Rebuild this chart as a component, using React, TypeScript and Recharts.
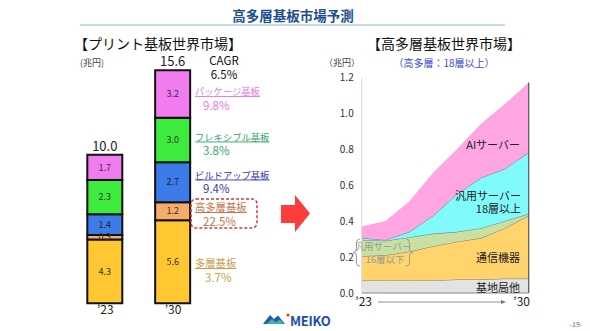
import React from 'react';
import {
  BarChart, Bar, XAxis, YAxis, LabelList,
  AreaChart, Area, ReferenceLine,
} from 'recharts';

// ---- Left: printed circuit board world market (兆円) ----
const barCategories = ['’23', '’30'];
const multilayer = [4.3, 5.6];       // 多層基板
const highMultilayer = [0.3, 1.2];   // 高多層基板
const buildup = [1.4, 2.7];          // ビルドアップ基板
const flexible = [2.3, 3.0];         // フレキシブル基板
const packageSub = [1.7, 3.2];       // パッケージ基板
const barTotals = [10.0, 15.6];

// ---- Right: high multilayer board world market (兆円) ----
const years = ['2023', '2024', '2025', '2026', '2027', '2028', '2029', '2030'];
const baseStation = [0.07, 0.07, 0.07, 0.07, 0.075, 0.075, 0.08, 0.08];     // 基地局他
const commEquip = [0.135, 0.14, 0.16, 0.19, 0.21, 0.23, 0.28, 0.35];        // 通信機器
const server16 = [0.09, 0.08, 0.08, 0.07, 0.055, 0.055, 0.04, 0.01];        // 汎用サーバー16層以下
const server18 = [0.01, 0.005, 0.03, 0.1, 0.21, 0.28, 0.29, 0.34];          // 汎用サーバー18層以上
const aiServer = [0.065, 0.105, 0.17, 0.24, 0.25, 0.3, 0.36, 0.39];         // AIサーバー
const areaTicks = [0, 0.2, 0.4, 0.6, 0.8, 1.0, 1.2];

const barData = barCategories.map((c, i) => ({
  cat: c,
  multilayer: multilayer[i],
  highMultilayer: highMultilayer[i],
  buildup: buildup[i],
  flexible: flexible[i],
  packageSub: packageSub[i],
  total: barTotals[i].toFixed(1),
}));

const areaData = years.map((y, i) => ({
  year: y,
  baseStation: baseStation[i],
  commEquip: commEquip[i],
  server16: server16[i],
  server18: server18[i],
  aiServer: aiServer[i],
}));

const lastIdx = years.length - 1;
const lastTotal =
  baseStation[lastIdx] + commEquip[lastIdx] + server16[lastIdx] + server18[lastIdx] + aiServer[lastIdx];

const FONT = '"Noto Sans CJK JP", "Noto Sans", sans-serif';
const fmt1 = (v: any) => Number(v).toFixed(1);

const AreaXTick = (props: any) => {
  const { x, y, index } = props;
  let label = '';
  let dx = 0;
  if (index === 0) { label = '’23'; dx = 2; }
  else if (index === lastIdx) { label = '’30'; dx = -7; }
  return (
    <text x={x + dx} y={y} dy="0.71em" textAnchor="middle" fontSize={12} fill="#222" fontFamily={FONT}>
      {label}
    </text>
  );
};

export default function App() {
  const barStroke = '#111';
  const areaStroke = '#5a5a6a';
  return (
    <div style={{ position: 'absolute', left: 0, top: 0, width: 590, height: 331, background: '#fff', fontFamily: FONT, overflow: 'hidden' }}>
      {/* Left bar chart */}
      <div style={{ position: 'absolute', left: 0, top: 0 }}>
        <BarChart
          width={230}
          height={331}
          data={barData}
          margin={{ top: 65.7, right: 23, bottom: 7.7, left: 71.3 }}
        >
          <XAxis
            dataKey="cat"
            tickLine={false}
            axisLine={false}
            height={20}
            tickSize={2}
            tickMargin={0}
            tick={{ fontSize: 12, fill: '#222', fontFamily: FONT }}
          />
          <YAxis hide domain={[0, 16]} />
          <Bar dataKey="multilayer" stackId="s" fill="#FFC832" stroke={barStroke} strokeWidth={2} barSize={35} isAnimationActive={false}>
            <LabelList dataKey="multilayer" position="center" formatter={fmt1} fontSize={9} fill="#333" fontFamily={FONT} />
          </Bar>
          <Bar dataKey="highMultilayer" stackId="s" fill="#F7AC6B" stroke={barStroke} strokeWidth={2} barSize={35} isAnimationActive={false}>
            <LabelList dataKey="highMultilayer" position="center" formatter={fmt1} fontSize={9} fill="#333" fontFamily={FONT} />
          </Bar>
          <Bar dataKey="buildup" stackId="s" fill="#3C7CE8" stroke={barStroke} strokeWidth={2} barSize={35} isAnimationActive={false}>
            <LabelList dataKey="buildup" position="center" formatter={fmt1} fontSize={9} fill="#222" fontFamily={FONT} />
          </Bar>
          <Bar dataKey="flexible" stackId="s" fill="#3DEB3D" stroke={barStroke} strokeWidth={2} barSize={35} isAnimationActive={false}>
            <LabelList dataKey="flexible" position="center" formatter={fmt1} fontSize={9} fill="#333" fontFamily={FONT} />
          </Bar>
          <Bar dataKey="packageSub" stackId="s" fill="#F07CF0" stroke={barStroke} strokeWidth={2} barSize={35} isAnimationActive={false}>
            <LabelList dataKey="packageSub" position="center" formatter={fmt1} fontSize={9} fill="#333" fontFamily={FONT} />
            <LabelList dataKey="total" position="top" offset={4} fontSize={13} fill="#222" fontFamily={FONT} />
          </Bar>
        </BarChart>
      </div>

      {/* Right area chart */}
      <div style={{ position: 'absolute', left: 300, top: 0 }}>
        <AreaChart
          width={290}
          height={331}
          data={areaData}
          margin={{ top: 77, right: 61.3, bottom: 18, left: 21.7 }}
        >
          <XAxis
            dataKey="year"
            interval={0}
            tickLine={false}
            axisLine={{ stroke: '#888' }}
            height={20}
            tickSize={2}
            tickMargin={2}
            tick={<AreaXTick />}
          />
          <YAxis
            domain={[0, 1.2]}
            ticks={areaTicks}
            width={40}
            tickLine={false}
            axisLine={{ stroke: '#D9D9D9' }}
            tickFormatter={(v: number) => v.toFixed(1)}
            tick={{ fontSize: 10, fill: '#333', fontFamily: FONT }}
          />
          <Area type="linear" dataKey="baseStation" stackId="a" fill="#E3E3E3" fillOpacity={1} stroke="#777" strokeWidth={1} isAnimationActive={false} />
          <Area type="linear" dataKey="commEquip" stackId="a" fill="#FFD46C" fillOpacity={1} stroke={areaStroke} strokeWidth={0.8} isAnimationActive={false} />
          <Area type="linear" dataKey="server16" stackId="a" fill="#C8E0A2" fillOpacity={1} stroke={areaStroke} strokeWidth={0.8} isAnimationActive={false} />
          <Area type="linear" dataKey="server18" stackId="a" fill="#80FAFA" fillOpacity={1} stroke={areaStroke} strokeWidth={0.8} isAnimationActive={false} />
          <Area type="linear" dataKey="aiServer" stackId="a" fill="#FFA5E2" fillOpacity={1} stroke="none" isAnimationActive={false} />
          <ReferenceLine
            segment={[{ x: years[lastIdx], y: 0 }, { x: years[lastIdx], y: lastTotal }]}
            stroke="#555"
            strokeWidth={1.2}
            ifOverflow="visible"
          />
        </AreaChart>
      </div>

      {/* Annotations */}
      <svg width={590} height={331} style={{ position: 'absolute', left: 0, top: 0, pointerEvents: 'none' }} fontFamily={FONT}>
        {/* Header */}
        <text x={293} y={15} textAnchor="middle" dominantBaseline="central" fontSize={13.5} fontWeight="bold" fill="#1F4F8F">高多層基板市場予測</text>
        <line x1={80} y1={25} x2={505} y2={25} stroke="#C8DDE3" strokeWidth={2} />

        {/* Left headings */}
        <text x={74} y={43} dominantBaseline="central" fontSize={14} fill="#111">【プリント基板世界市場】</text>
        <text x={80} y={62} dominantBaseline="central" fontSize={9} fill="#444">(兆円)</text>
        <text x={224} y={59.5} textAnchor="middle" dominantBaseline="central" fontSize={11.5} fill="#111">CAGR</text>
        <text x={224} y={73.5} textAnchor="middle" dominantBaseline="central" fontSize={11.5} fill="#111">6.5%</text>

        <text x={195} y={91} dominantBaseline="central" fontSize={9.3} fill="#E47AE4" textDecoration="underline">パッケージ基板</text>
        <text x={203} y={104.5} dominantBaseline="central" fontSize={11.5} fill="#E47AE4">9.8%</text>

        <text x={195} y={136.5} dominantBaseline="central" fontSize={9.3} fill="#33A86A" textDecoration="underline">フレキシブル基板</text>
        <text x={203} y={149.5} dominantBaseline="central" fontSize={11.5} fill="#33A86A">3.8%</text>

        <text x={195} y={174.5} dominantBaseline="central" fontSize={9.3} fill="#3A3AB0" textDecoration="underline">ビルドアップ基板</text>
        <text x={203} y={187.5} dominantBaseline="central" fontSize={11.5} fill="#3A3AB0">9.4%</text>

        <rect x={191} y={199} width={66} height={29} rx={5} ry={5} fill="none" stroke="#D9363E" strokeWidth={1.5} strokeDasharray="3 2" />
        <text x={195} y={206.5} dominantBaseline="central" fontSize={10.3} fill="#C07850" textDecoration="underline">高多層基板</text>
        <text x={203} y={220.5} dominantBaseline="central" fontSize={11.5} fill="#C07850">22.5%</text>

        <text x={195} y={262.5} dominantBaseline="central" fontSize={10.3} fill="#C8A050" textDecoration="underline">多層基板</text>
        <text x={205} y={276.5} dominantBaseline="central" fontSize={11.5} fill="#C8A050">3.7%</text>

        {/* Red arrow */}
        <polygon points="281,205 295,205 295,195 310,213.5 295,232 295,223 281,223" fill="#FF3B3B" />

        {/* Right headings */}
        <text x={367} y={43} dominantBaseline="central" fontSize={14} fill="#111">【高多層基板世界市場】</text>
        <text x={342} y={62} textAnchor="middle" dominantBaseline="central" fontSize={9} fill="#444">（兆円）</text>
        <text x={444} y={62} textAnchor="middle" dominantBaseline="central" fontSize={10} fill="#3A4ACC">（高多層：18層以上）</text>

        {/* Area labels */}
        <text x={520} y={144} textAnchor="end" dominantBaseline="central" fontSize={11} fill="#222">AIサーバー</text>
        <text x={521} y={195} textAnchor="end" dominantBaseline="central" fontSize={11} fill="#222">汎用サーバー</text>
        <text x={521} y={208} textAnchor="end" dominantBaseline="central" fontSize={11} fill="#222">18層以上</text>
        <text x={520} y={257} textAnchor="end" dominantBaseline="central" fontSize={11} fill="#222">通信機器</text>
        <text x={520} y={287} textAnchor="end" dominantBaseline="central" fontSize={11} fill="#222">基地局他</text>

        <path d="M360,239 Q356.5,239 356.5,243 L356.5,249 Q356.5,252.5 353,252.5 Q356.5,252.5 356.5,256 L356.5,263 Q356.5,266 360,266" fill="none" stroke="#999" strokeWidth={1} />
        <path d="M406,239 Q409.5,239 409.5,243 L409.5,249 Q409.5,252.5 413,252.5 Q409.5,252.5 409.5,256 L409.5,263 Q409.5,266 406,266" fill="none" stroke="#999" strokeWidth={1} />
        <text x={383} y={245.7} textAnchor="middle" dominantBaseline="central" fontSize={9.5} fill="#9a9a9a">汎用サーバー</text>
        <text x={385} y={259} textAnchor="middle" dominantBaseline="central" fontSize={9.5} fill="#9a9a9a">16層以下</text>

        {/* Time arrow */}
        <line x1={378} y1={302} x2={503} y2={302} stroke="#777" strokeWidth={0.8} />
        <polygon points="506,302 501,300 501,304" fill="#777" />

        {/* Logo */}
        <polygon points="263,324 270,315 274,319 278,315.5 285,324" fill="#1E5AB4" />
        <polygon points="266,324 272,319 276,322 280,319.5 284,324" fill="#3CB4A0" />
        <circle cx={288} cy={315} r={1.5} fill="#E03030" />
        <text x={290} y={320} dominantBaseline="central" fontSize={13} fontWeight="bold" fill="#1E4FA8" letterSpacing={-0.3}>MEIKO</text>
        <text x={576} y={324} textAnchor="middle" dominantBaseline="central" fontSize={7} fill="#666">-19-</text>
      </svg>
    </div>
  );
}
